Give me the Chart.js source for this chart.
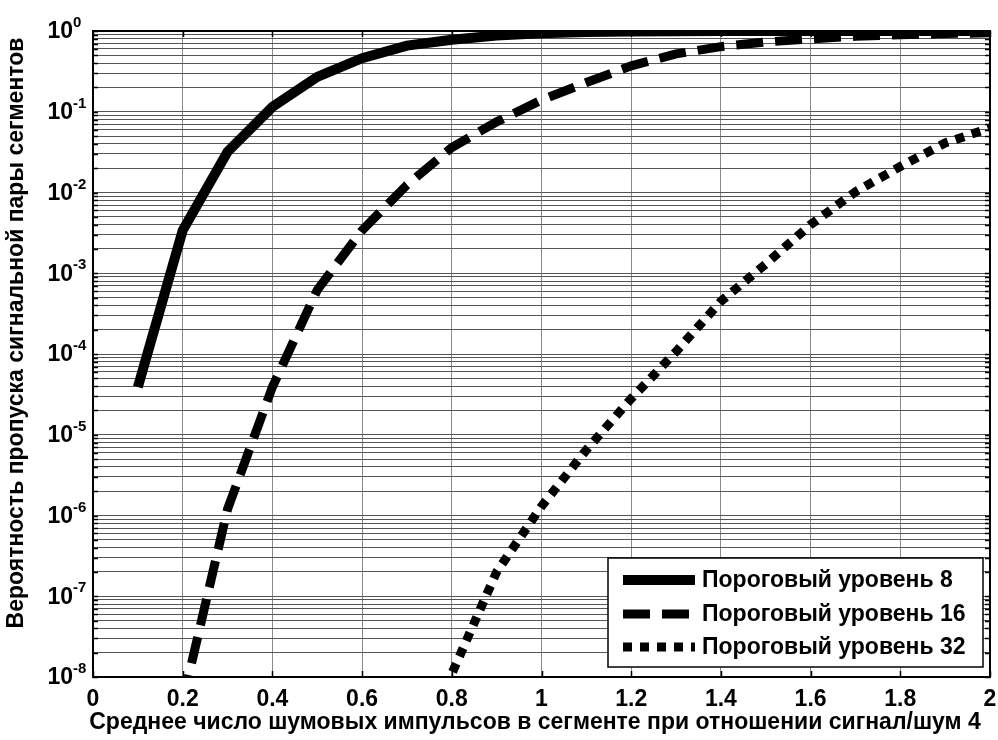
<!DOCTYPE html>
<html>
<head>
<meta charset="utf-8">
<style>
  html, body { margin: 0; padding: 0; background: #fff; }
</style>
<script src="https://cdn.jsdelivr.net/npm/chart.js@4.4.0/dist/chart.umd.min.js"></script>
</head>
<body>
<canvas id="chart" width="998" height="740"></canvas>
<script>
// values
const xValues = [0.1, 0.2, 0.3, 0.4, 0.5, 0.6, 0.7, 0.8, 0.9, 1.0,
                 1.1, 1.2, 1.3, 1.4, 1.5, 1.6, 1.7, 1.8, 1.9, 2.0];
const level8 = [3.9e-5, 3.4e-3, 0.032, 0.115, 0.27, 0.46, 0.66, 0.78, 0.88, 0.94,
                0.97, 0.985, 0.993, 0.997, 0.998, 0.999, 0.9995, 0.9997, 0.9998, 0.9999];
const level16 = [null, 5e-9, 1.2e-6, 3.9e-5, 6.2e-4, 3.4e-3, 0.0124, 0.036, 0.075, 0.14,
                 0.23, 0.37, 0.52, 0.64, 0.73, 0.80, 0.86, 0.90, 0.93, 0.95];
const level32 = [null, null, null, null, null, null, 3e-10, 1.1e-8, 2e-7, 1.3e-6,
                 6.5e-6, 2.8e-5, 1.07e-4, 4.5e-4, 1.3e-3, 4e-3, 0.0102, 0.021, 0.041, 0.063];
const seriesLabels = ['Пороговый уровень 8', 'Пороговый уровень 16', 'Пороговый уровень 32'];
const xTicks = [0, 0.2, 0.4, 0.6, 0.8, 1, 1.2, 1.4, 1.6, 1.8, 2];
const yExponents = [-8, -7, -6, -5, -4, -3, -2, -1, 0];
const yMinor = [2, 3, 4, 5, 6, 7, 8, 9];

const xTitle = 'Среднее число шумовых импульсов в сегменте при отношении сигнал/шум 4';
const yTitle = 'Вероятность пропуска сигнальной пары сегментов';
const FONT = "'Liberation Sans', Arial, sans-serif";

function toPoints(ys) {
    return xValues.map((x, i) => ({ x: x, y: ys[i] }));
}

// all y ticks: decades plus 2..9 in between
const yTickValues = [];
yExponents.forEach(e => {
    yTickValues.push(Math.pow(10, e));
    if (e < 0) yMinor.forEach(m => yTickValues.push(m * Math.pow(10, e)));
});

const matlabLook = {
    id: 'matlabLook',
    afterDraw(chart) {
        const ctx = chart.ctx;
        const a = chart.chartArea;
        const xs = chart.scales.x;
        const ys = chart.scales.y;
        ctx.save();

        // inward tick marks
        ctx.strokeStyle = '#000';
        ctx.lineWidth = 1.5;
        ctx.beginPath();
        xTicks.forEach(v => {
            const px = Math.round(xs.getPixelForValue(v)) + 0.5;
            ctx.moveTo(px, a.bottom); ctx.lineTo(px, a.bottom - 6);
            ctx.moveTo(px, a.top); ctx.lineTo(px, a.top + 6);
        });
        yTickValues.forEach(v => {
            const py = Math.round(ys.getPixelForValue(v)) + 0.5;
            ctx.moveTo(a.left, py); ctx.lineTo(a.left + 5, py);
            ctx.moveTo(a.right, py); ctx.lineTo(a.right - 5, py);
        });
        ctx.stroke();

        // frame
        ctx.lineWidth = 2;
        ctx.strokeRect(a.left, a.top, a.right - a.left, a.bottom - a.top);

        ctx.fillStyle = '#000';
        // x tick labels
        ctx.font = 'bold 23px ' + FONT;
        ctx.textAlign = 'center';
        ctx.textBaseline = 'middle';
        xTicks.forEach(v => {
            ctx.fillText(String(v), xs.getPixelForValue(v), 700);
        });

        // axis titles
        ctx.fillText(xTitle, 535, 723);
        ctx.save();
        ctx.translate(17, 333);
        ctx.rotate(-Math.PI / 2);
        ctx.fillText(yTitle, 0, 0);
        ctx.restore();

        // y labels 10^n
        yExponents.forEach(e => {
            const py = ys.getPixelForValue(Math.pow(10, e));
            ctx.font = 'bold 23px ' + FONT;
            ctx.textAlign = 'right';
            ctx.textBaseline = 'middle';
            ctx.fillText('10', 73, py + 1);
            ctx.font = 'bold 15px ' + FONT;
            ctx.textAlign = 'left';
            ctx.textBaseline = 'alphabetic';
            ctx.fillText(String(e), 73, py - 4);
        });

        // legend
        const box = { x: 608, y: 558, w: 375, h: 109 };
        ctx.fillStyle = '#fff';
        ctx.fillRect(box.x, box.y, box.w, box.h);
        ctx.lineWidth = 1.5;
        ctx.strokeStyle = '#000';
        ctx.strokeRect(box.x, box.y, box.w, box.h);
        const rows = [580, 614, 647];
        chart.data.datasets.forEach((ds, i) => {
            const y = rows[i];
            ctx.beginPath();
            ctx.lineWidth = ds.borderWidth;
            ctx.lineCap = 'butt';
            ctx.setLineDash(ds.borderDash || []);
            ctx.moveTo(623, y);
            ctx.lineTo(695, y);
            ctx.stroke();
            ctx.setLineDash([]);
            ctx.fillStyle = '#000';
            ctx.font = 'bold 23px ' + FONT;
            ctx.textAlign = 'left';
            ctx.textBaseline = 'middle';
            ctx.fillText(ds.label, 702, y + 1);
        });
        ctx.restore();
    }
};

new Chart(document.getElementById('chart'), {
    type: 'line',
    data: {
        datasets: [
            { label: seriesLabels[0], data: toPoints(level8), borderColor: '#000', borderWidth: 10, borderDash: [] },
            { label: seriesLabels[1], data: toPoints(level16), borderColor: '#000', borderWidth: 9, borderDash: [27, 12] },
            { label: seriesLabels[2], data: toPoints(level32), borderColor: '#000', borderWidth: 9, borderDash: [9, 8] }
        ]
    },
    options: {
        responsive: false,
        animation: false,
        devicePixelRatio: 1,
        clip: 0,
        layout: { padding: { top: 31, right: 8, left: 0, bottom: 0 } },
        elements: {
            point: { radius: 0 },
            line: { tension: 0, borderCapStyle: 'butt', borderJoinStyle: 'miter', fill: false }
        },
        plugins: { legend: { display: false }, tooltip: { enabled: false } },
        scales: {
            x: {
                type: 'linear',
                min: 0,
                max: 2,
                afterBuildTicks: s => { s.ticks = xTicks.map(v => ({ value: v })); },
                afterFit: s => { s.height = 63; },
                grid: { color: '#8a8a8a', lineWidth: 1, drawTicks: false },
                border: { display: false },
                ticks: { display: false }
            },
            y: {
                type: 'logarithmic',
                min: 1e-8,
                max: 1,
                afterBuildTicks: s => { s.ticks = yTickValues.map(v => ({ value: v })); },
                afterFit: s => { s.width = 93; },
                grid: { color: '#555', lineWidth: 1, drawTicks: false },
                border: { display: false },
                ticks: { display: false }
            }
        }
    },
    plugins: [matlabLook]
});
</script>
</body>
</html>
